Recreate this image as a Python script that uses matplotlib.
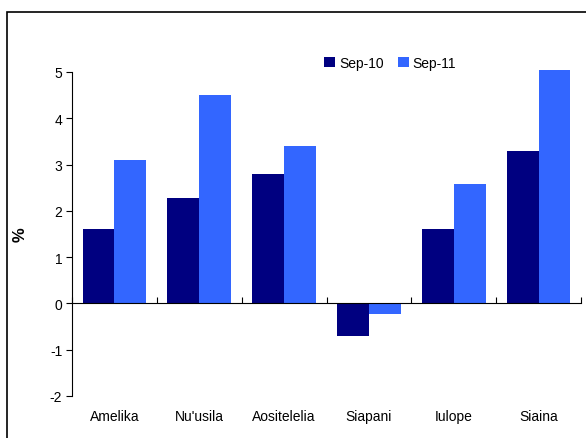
import matplotlib
matplotlib.use('Agg')
import matplotlib.pyplot as plt
import matplotlib.patches as mpatches
import matplotlib.transforms as mtransforms
import numpy as np

plt.rcParams['font.family'] = ['Liberation Sans', 'DejaVu Sans']

countries = ['Amelika', "Nu'usila", 'Aositelelia', 'Siapani', 'Iulope', 'Siaina']
sep10 = [1.6, 2.27, 2.8, -0.7, 1.6, 3.3]
sep11 = [3.1, 4.5, 3.4, -0.23, 2.58, 5.05]
yticks = [-2, -1, 0, 1, 2, 3, 4, 5]

navy = '#000080'
blue = '#3366FF'

fig = plt.figure(figsize=(5.86, 4.39), dpi=100)
ax = fig.add_axes([72/586, 1-397/439, (581-72)/586, (397-73)/439])

x = np.arange(len(countries))
w = 0.375
ax.bar(x - w/2, sep10, w, color=navy, label='Sep-10', zorder=2, clip_on=False)
ax.bar(x + w/2, sep11, w, color=blue, label='Sep-11', zorder=2, clip_on=False)

ax.set_xlim(-0.5, len(countries) - 0.5)
ax.set_ylim(-2, 5)
ax.set_yticks(yticks)
ax.set_yticklabels([str(v) for v in yticks], fontsize=10)
ax.tick_params(axis='y', length=4, width=0.8, direction='out', pad=3)

# zero line with category boundary ticks
ax.spines['bottom'].set_position(('data', 0))
ax.spines['bottom'].set_zorder(3)
ax.spines['top'].set_visible(False)
ax.spines['right'].set_visible(False)
ax.set_xticks(np.arange(len(countries) + 1) - 0.5)
ax.set_xticklabels([])
ax.tick_params(axis='x', length=4, width=0.8, direction='in')

trans = mtransforms.blended_transform_factory(ax.transData, ax.transAxes)
for i, name in enumerate(countries):
    ax.text(i, -20/324, name, transform=trans, ha='center', va='center', fontsize=10)

ax.set_ylabel('%', fontsize=12, fontweight='bold', labelpad=16)

ax.legend(loc='center', bbox_to_anchor=(390/586, 1-64/439), bbox_transform=fig.transFigure,
          ncol=2, frameon=False, fontsize=10, handlelength=0.8, handleheight=0.8,
          handletextpad=0.3, columnspacing=1.0, borderpad=0)

# chart border
fig.patches.append(mpatches.Rectangle((7/586, -0.1), 1.2, 1.1 - 13/439, fill=False,
                                      edgecolor='black', linewidth=1.2, transform=fig.transFigure))

fig.savefig('out.png', dpi=100)
